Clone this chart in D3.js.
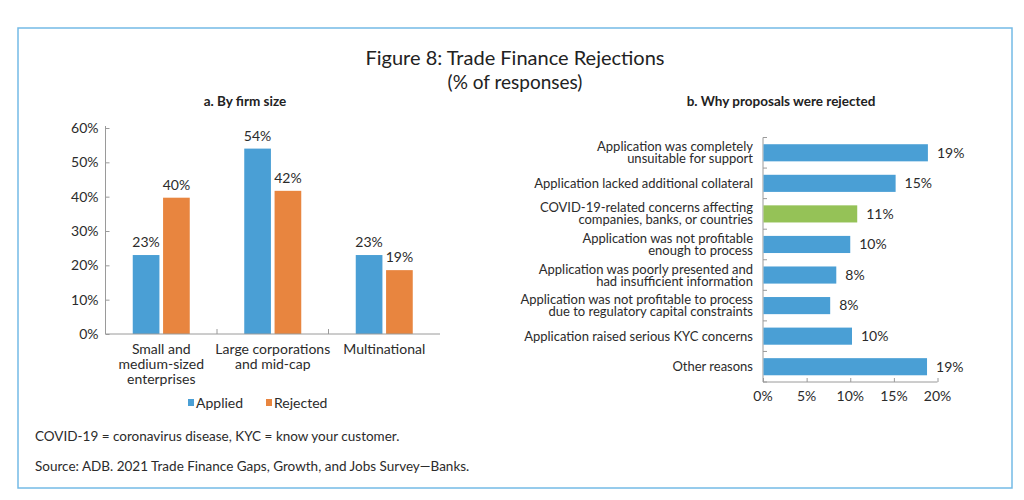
<!DOCTYPE html>
<html><head><meta charset="utf-8">
<script src="https://cdn.jsdelivr.net/npm/d3@7"></script>
<style>
html,body{margin:0;padding:0;background:#fff;}
svg{display:block;font-family:Lato,"Open Sans",sans-serif;}
</style></head>
<body>
<svg id="chart" width="1024" height="500"></svg>
<script>
// ---- Data ----
const firmCategories = [["Small and","medium-sized","enterprises"],["Large corporations","and mid-cap"],["Multinational"]];
const seriesNames = ["Applied","Rejected"];
const appliedValues = [23, 54, 23];
const rejectedValues = [39.7, 41.7, 18.6];
const leftTicks = [0,10,20,30,40,50,60];

const reasonLabels = [
  ["Application was completely","unsuitable for support"],
  ["Application lacked additional collateral"],
  ["COVID-19-related concerns affecting","companies, banks, or countries"],
  ["Application was not profitable","enough to process"],
  ["Application was poorly presented and","had insufficient information"],
  ["Application was not profitable to process","due to regulatory capital constraints"],
  ["Application raised serious KYC concerns"],
  ["Other reasons"]
];
const reasonValues = [18.9, 15.2, 10.8, 10.0, 8.4, 7.7, 10.2, 18.8];
const reasonHighlight = [false,false,true,false,false,false,false,false];
const rightTicks = [0,5,10,15,20];

const BLUE = "#4a9fd5", ORANGE = "#e8853f", GREEN = "#95c257", TEXT = "#2b2b2b", AXIS = "#9a9a9a";

const svg = d3.select("#chart");

// frame
svg.append("rect").attr("x",18).attr("y",28).attr("width",994).attr("height",460)
  .attr("fill","none").attr("stroke","#74bbe6").attr("stroke-width",1.5);

// titles
svg.append("text").attr("x",515).attr("y",65).attr("text-anchor","middle")
  .attr("font-size",20).attr("fill","#222").text("Figure 8: Trade Finance Rejections");
svg.append("text").attr("x",515).attr("y",89).attr("text-anchor","middle")
  .attr("font-size",19).attr("fill","#222").text("(% of responses)");
svg.append("text").attr("x",245).attr("y",106).attr("text-anchor","middle")
  .attr("font-size",13.5).attr("font-weight","bold").attr("fill","#222").text("a. By firm size");
svg.append("text").attr("x",781).attr("y",106).attr("text-anchor","middle")
  .attr("font-size",13.5).attr("font-weight","bold").attr("fill","#222").text("b. Why proposals were rejected");

// ---- Left chart ----
const L = {x0:105.5, x1:440, y0:334, y1:128};
const x0 = d3.scaleBand().domain(d3.range(firmCategories.length)).range([L.x0, L.x1]);
const x1 = d3.scaleBand().domain(seriesNames).range([0,57]).paddingInner(0.12);
const yL = d3.scaleLinear().domain([0,60]).range([L.y0, L.y1]);

const gL = svg.append("g");
// y axis
const yAx = gL.append("g").attr("transform",`translate(${L.x0},0)`)
  .call(d3.axisRight(yL).tickValues(leftTicks).tickSize(4).tickFormat(""));
yAx.select(".domain").remove();
yAx.selectAll("line").attr("stroke",AXIS);
gL.append("line").attr("x1",L.x0).attr("x2",L.x0).attr("y1",L.y1-2).attr("y2",L.y0).attr("stroke",AXIS);
gL.selectAll("text.yl").data(leftTicks).enter().append("text").attr("class","yl")
  .attr("x",L.x0-7).attr("y",d=>yL(d)).attr("dy","0.35em").attr("text-anchor","end")
  .attr("font-size",14).attr("fill",TEXT).text(d=>d+"%");

const groupOff = (x0.bandwidth()-57)/2;
const barsData = [];
firmCategories.forEach((c,i)=>{
  barsData.push({i, s:"Applied", v:appliedValues[i]});
  barsData.push({i, s:"Rejected", v:rejectedValues[i]});
});
gL.selectAll("rect.bar").data(barsData).enter().append("rect").attr("class","bar")
  .attr("x",d=>x0(d.i)+groupOff+x1(d.s)).attr("width",x1.bandwidth())
  .attr("y",d=>yL(d.v)).attr("height",d=>L.y0-yL(d.v))
  .attr("fill",d=>d.s==="Applied"?BLUE:ORANGE);
gL.selectAll("text.val").data(barsData).enter().append("text").attr("class","val")
  .attr("x",d=>x0(d.i)+groupOff+x1(d.s)+x1.bandwidth()/2).attr("y",d=>yL(d.v)-8)
  .attr("text-anchor","middle").attr("font-size",14).attr("fill",TEXT)
  .text(d=>Math.round(d.v)+"%");

// x axis
gL.append("line").attr("x1",L.x0).attr("x2",L.x1).attr("y1",L.y0).attr("y2",L.y0).attr("stroke",AXIS);
gL.selectAll("line.xt").data([1,2]).enter().append("line").attr("class","xt")
  .attr("x1",d=>x0(d)).attr("x2",d=>x0(d)).attr("y1",L.y0).attr("y2",L.y0-5).attr("stroke",AXIS);
firmCategories.forEach((lines,i)=>{
  const t = gL.append("text").attr("text-anchor","middle").attr("font-size",14).attr("fill",TEXT);
  lines.forEach((ln,k)=>{
    t.append("tspan").attr("x",x0(i)+x0.bandwidth()/2).attr("y",354+k*15).text(ln);
  });
});
// legend
const leg = [{n:"Applied",c:BLUE,x:188},{n:"Rejected",c:ORANGE,x:266}];
leg.forEach(d=>{
  gL.append("rect").attr("x",d.x).attr("y",399).attr("width",6).attr("height",7).attr("fill",d.c);
  gL.append("text").attr("x",d.x+8).attr("y",407.5).attr("font-size",14).attr("fill",TEXT).text(d.n);
});

// ---- Right chart ----
const R = {x0:763, x1:937.5, y0:137.5, y1:382};
const xR = d3.scaleLinear().domain([0,20]).range([R.x0,R.x1]);
const yR = d3.scaleBand().domain(d3.range(reasonLabels.length)).range([R.y0,R.y1]).paddingInner(0.44).paddingOuter(0.22);
const yRb = d3.scaleBand().domain(d3.range(reasonLabels.length)).range([R.y0,R.y1]);
const gR = svg.append("g");
gR.append("line").attr("x1",R.x0).attr("x2",R.x0).attr("y1",R.y0).attr("y2",R.y1).attr("stroke",AXIS);
gR.append("line").attr("x1",R.x0).attr("x2",R.x1).attr("y1",R.y1).attr("y2",R.y1).attr("stroke",AXIS);
gR.selectAll("line.yt").data(d3.range(reasonLabels.length+1)).enter().append("line").attr("class","yt")
  .attr("x1",R.x0).attr("x2",R.x0+4)
  .attr("y1",d=>d<reasonLabels.length?yRb(d):R.y1).attr("y2",d=>d<reasonLabels.length?yRb(d):R.y1)
  .attr("stroke",AXIS);
const xAx = gR.append("g").attr("transform",`translate(0,${R.y1})`)
  .call(d3.axisTop(xR).tickValues(rightTicks).tickSize(4).tickFormat(""));
xAx.select(".domain").remove();
xAx.selectAll("line").attr("stroke",AXIS);
gR.selectAll("text.xl").data(rightTicks).enter().append("text").attr("class","xl")
  .attr("x",d=>xR(d)).attr("y",R.y1+19).attr("text-anchor","middle")
  .attr("font-size",14).attr("fill",TEXT).text(d=>d+"%");

gR.selectAll("rect.rb").data(reasonValues).enter().append("rect").attr("class","rb")
  .attr("x",R.x0+0.5).attr("y",(d,i)=>yR(i)).attr("height",yR.bandwidth())
  .attr("width",d=>xR(d)-R.x0-0.5).attr("fill",(d,i)=>reasonHighlight[i]?GREEN:BLUE);
gR.selectAll("text.rv").data(reasonValues).enter().append("text").attr("class","rv")
  .attr("x",d=>xR(d)+9).attr("y",(d,i)=>yR(i)+yR.bandwidth()/2).attr("dy","0.35em")
  .attr("font-size",14).attr("fill",TEXT).text(d=>Math.round(d)+"%");
reasonLabels.forEach((lines,i)=>{
  const cy = yRb(i)+yRb.bandwidth()/2;
  const t = gR.append("text").attr("text-anchor","end").attr("font-size",13).attr("fill",TEXT);
  const n = lines.length;
  lines.forEach((ln,k)=>{
    t.append("tspan").attr("x",753).attr("y",cy+(k-(n-1)/2)*12).attr("dy","0.35em").text(ln);
  });
});

// footnotes
svg.append("text").attr("x",35).attr("y",441).attr("font-size",13.5).attr("fill",TEXT)
  .text("COVID-19 = coronavirus disease, KYC = know your customer.");
svg.append("text").attr("x",35).attr("y",471).attr("font-size",13.5).attr("fill",TEXT)
  .text("Source: ADB. 2021 Trade Finance Gaps, Growth, and Jobs Survey\u2014Banks.");
</script>
</body></html>
